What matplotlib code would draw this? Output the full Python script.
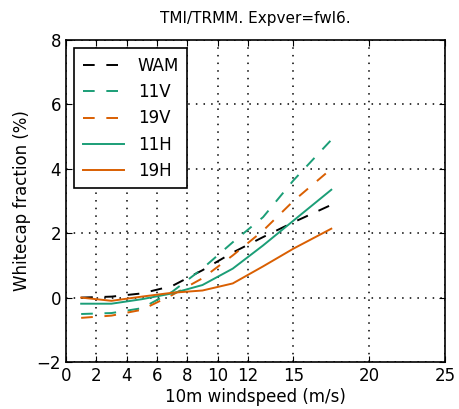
import matplotlib
matplotlib.use("Agg")
import matplotlib.pyplot as plt

# bin centres of 10m windspeed (m/s)
wind = [1, 3, 5, 7, 9, 11, 13, 15, 17.5]

wam = [0.0, 0.03, 0.13, 0.36, 0.85, 1.4, 1.88, 2.34, 2.88]
v11 = [-0.51, -0.48, -0.33, 0.18, 0.9, 1.72, 2.5, 3.64, 4.9]
v19 = [-0.63, -0.56, -0.38, 0.08, 0.6, 1.31, 2.08, 3.0, 4.0]
h11 = [-0.19, -0.19, -0.05, 0.13, 0.39, 0.9, 1.62, 2.39, 3.35]
h19 = [0.0, -0.1, 0.03, 0.15, 0.22, 0.44, 0.97, 1.52, 2.14]

xticks = [0, 2, 4, 6, 8, 10, 12, 15, 20, 25]
yticks = [-2, 0, 2, 4, 6, 8]

green = "#1b9e77"
orange = "#d95f02"

plt.rcParams["font.family"] = "DejaVu Sans"
plt.rcParams["font.size"] = 12
plt.rcParams["xtick.direction"] = "in"
plt.rcParams["ytick.direction"] = "in"
plt.rcParams["xtick.top"] = True
plt.rcParams["ytick.right"] = True
plt.rcParams["xtick.major.size"] = 4
plt.rcParams["ytick.major.size"] = 4

fig = plt.figure(figsize=(4.59, 4.09), dpi=100)
ax = fig.add_axes([0.1438, 0.115, 0.8257, 0.787])

dash = (0, (6, 6))
ax.plot(wind, wam, color="k", ls=dash, lw=1.4, label="WAM")
ax.plot(wind, v11, color=green, ls=dash, lw=1.4, label="11V")
ax.plot(wind, v19, color=orange, ls=dash, lw=1.4, label="19V")
ax.plot(wind, h11, color=green, lw=1.4, label="11H")
ax.plot(wind, h19, color=orange, lw=1.4, label="19H")

ax.set_xlim(0, 25)
ax.set_ylim(-2, 8)
ax.set_xticks(xticks)
ax.set_yticks(yticks)
ax.grid(True, color="k", ls=(0, (1, 4)), lw=1.1)
for s in ax.spines.values():
    s.set_linewidth(1.2)

ax.set_xlabel("10m windspeed (m/s)", labelpad=2)
ax.set_ylabel("Whitecap fraction (%)")
ax.set_title("TMI/TRMM. Expver=fwl6.", fontsize=11, pad=12)

leg = ax.legend(loc="upper left", fancybox=False, framealpha=1,
                edgecolor="k", handlelength=2.5, borderpad=0.5,
                labelspacing=0.5, bbox_to_anchor=(0.0, 1.0))
leg.get_frame().set_linewidth(1.2)

fig.savefig("out.png", dpi=100, facecolor="white")
